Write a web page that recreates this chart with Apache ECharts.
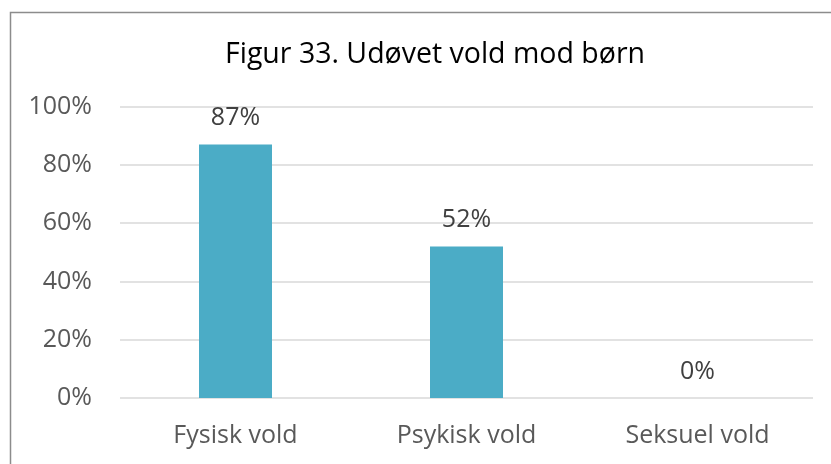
<!DOCTYPE html>
<html>
<head>
<meta charset="utf-8">
<script src="https://cdn.jsdelivr.net/npm/echarts@6/dist/echarts.min.js"></script>
<style>
  html, body { margin: 0; padding: 0; background: #fff; }
  #chart { width: 831px; height: 464px; }
</style>
</head>
<body>
<div id="chart"></div>
<script>
var categories = ['Fysisk vold', 'Psykisk vold', 'Seksuel vold'];
var values = [87, 52, 0];
var yTicks = [0, 20, 40, 60, 80, 100];

var chart = echarts.init(document.getElementById('chart'));
var font = '"Open Sans", "Noto Sans", sans-serif';
chart.setOption({
  animation: false,
  title: {
    text: 'Figur 33. Udøvet vold mod børn',
    left: 430,
    top: 35,
    textAlign: 'center',
    textStyle: { fontFamily: font, fontSize: 28.5, fontWeight: 'normal', color: '#000' }
  },
  graphic: [{
    type: 'rect',
    shape: { x: 10.5, y: 12.5, width: 830, height: 470 },
    style: { fill: 'none', stroke: '#8c8c8c', lineWidth: 1.5 }
  }],
  grid: { left: 120, right: 18, top: 106.5, bottom: 66 },
  xAxis: {
    type: 'category',
    data: categories,
    axisTick: { show: false },
    axisLine: { show: false },
    axisLabel: { fontFamily: font, fontSize: 25, color: '#595959', margin: 25 }
  },
  yAxis: {
    type: 'value',
    min: 0,
    max: 100,
    interval: 20,
    axisLine: { show: false },
    axisTick: { show: false },
    splitLine: { lineStyle: { color: '#d9d9d9', width: 1.5 } },
    axisLabel: {
      fontFamily: font, fontSize: 25, color: '#595959', margin: 28,
      formatter: function (v) { return yTicks.indexOf(v) >= 0 ? v + '%' : ''; }
    }
  },
  series: [{
    type: 'bar',
    data: values,
    barWidth: '31.6%',
    itemStyle: { color: '#4bacc6' },
    label: {
      show: true,
      position: 'top',
      distance: 14,
      formatter: '{c}%',
      fontFamily: font,
      fontSize: 25,
      color: '#404040'
    }
  }]
});
</script>
</body>
</html>
